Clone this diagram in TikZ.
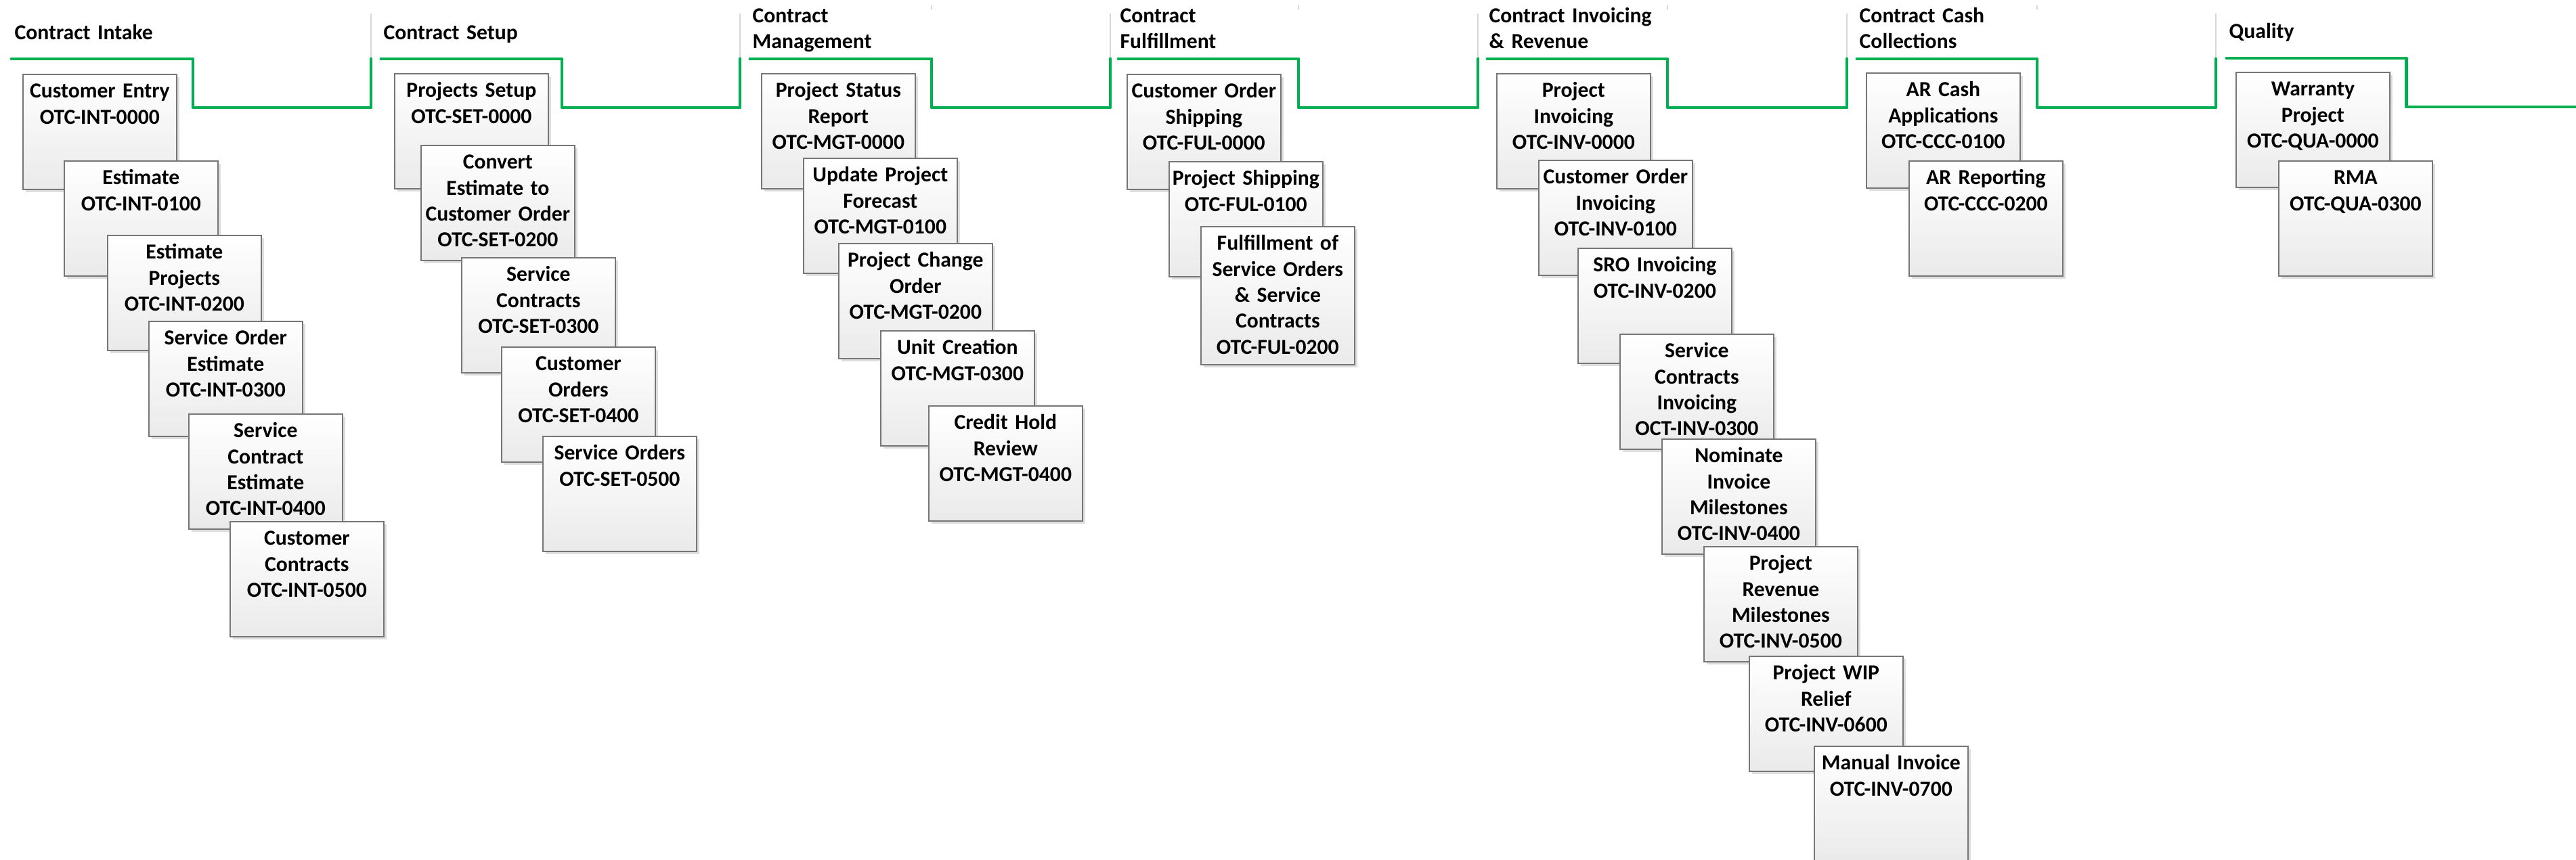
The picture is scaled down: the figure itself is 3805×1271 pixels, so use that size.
\documentclass[tikz,border=0pt]{standalone}
\usepackage{fontspec}
\setmainfont{Carlito}
\usepackage{tikz}
\usetikzlibrary{shadows}
\definecolor{phasegreen}{RGB}{0,176,80}
\definecolor{boxline}{RGB}{118,118,118}
\definecolor{boxfoot}{RGB}{234,234,234}
\definecolor{divline}{RGB}{215,215,215}

\begin{document}
\begin{tikzpicture}[x=0.01cm, y=-0.01cm,
    every node/.style={font=\fontsize{9}{10.9}\selectfont\bfseries, inner sep=0pt},
    task/.style={draw=boxline, line width=0.45pt, top color=white, bottom color=boxfoot,
      anchor=north west, text width=2.27cm, align=center, text height=0.35cm, text depth=1.35cm,
      drop shadow={shadow xshift=0.04cm, shadow yshift=-0.04cm, fill=black!13, opacity=1}},
    phase/.style={anchor=base west, text width=2.6cm, align=left},
    timeline/.style={draw=phasegreen, line width=1.4pt, line cap=round, line join=round},
    divider/.style={draw=divline, line width=0.6pt}]
  \useasboundingbox (0,0) rectangle (3805,1271);

  \draw[divider] (548,20) -- (548,85) (1093,20) -- (1093,85) (1640,20) -- (1640,85)
    (2183,20) -- (2183,85) (2728,20) -- (2728,85) (3273,20) -- (3273,85);
  \draw[divider] (1376,8) -- (1376,14) (1918,8) -- (1918,14) (2463,8) -- (2463,14)
    (3009,8) -- (3009,14);

  \draw[timeline] (17,87) -- (285,87) -- (285,159) -- (548,159) -- (548,87);
  \draw[timeline] (563,87) -- (830,87) -- (830,159) -- (1093,159) -- (1093,87);
  \draw[timeline] (1108,87) -- (1376,87) -- (1376,159) -- (1640,159) -- (1640,87);
  \draw[timeline] (1652,87) -- (1918,87) -- (1918,159) -- (2183,159) -- (2183,87);
  \draw[timeline] (2197,87) -- (2463,87) -- (2463,159) -- (2728,159) -- (2728,87);
  \draw[timeline] (2743,87) -- (3009,87) -- (3009,159) -- (3273,159) -- (3273,87);
  \draw[timeline] (3289,86) -- (3554,86) -- (3554,158) -- (3805,158);

  \node (Intake) at (21,59) [phase] {Contract Intake};
  \node (Setup) at (566,59) [phase] {Contract Setup};
  \node (Mgmt) at (1111,33.5) [phase] {Contract\\Management};
  \node (Fulfil) at (1654,33.5) [phase] {Contract\\Fulfillment};
  \node (Invoicing) at (2199,33.5) [phase] {Contract Invoicing\\\& Revenue};
  \node (Cash) at (2746,33.5) [phase] {Contract Cash\\Collections};
  \node (Quality) at (3292,57) [phase] {Quality};

  \node (INT0) at (33,109) [task] {Customer Entry\\OTC-INT-0000};
  \node (INT1) at (94,237) [task] {Estimate\\OTC-INT-0100};
  \node (INT2) at (158,347) [task] {Estimate\\Projects\\OTC-INT-0200};
  \node (INT3) at (219,474) [task] {Service Order\\Estimate\\OTC-INT-0300};
  \node (INT4) at (278,611) [task] {Service\\Contract\\Estimate\\OTC-INT-0400};
  \node (INT5) at (339,770) [task] {Customer\\Contracts\\OTC-INT-0500};

  \node (SET0) at (582,108) [task] {Projects Setup\\OTC-SET-0000};
  \node (SET2) at (621,214) [task] {Convert\\Estimate to\\Customer Order\\OTC-SET-0200};
  \node (SET3) at (681,380) [task] {Service\\Contracts\\OTC-SET-0300};
  \node (SET4) at (740,512) [task] {Customer\\Orders\\OTC-SET-0400};
  \node (SET5) at (801,644) [task] {Service Orders\\OTC-SET-0500};

  \node (MGT0) at (1124,108) [task] {Project Status\\Report\\OTC-MGT-0000};
  \node (MGT1) at (1186,233) [task] {Update Project\\Forecast\\OTC-MGT-0100};
  \node (MGT2) at (1238,359) [task] {Project Change\\Order\\OTC-MGT-0200};
  \node (MGT3) at (1300,488) [task] {Unit Creation\\OTC-MGT-0300};
  \node (MGT4) at (1371,599) [task] {Credit Hold\\Review\\OTC-MGT-0400};

  \node (FUL0) at (1664,109) [task] {Customer Order\\Shipping\\OTC-FUL-0000};
  \node (FUL1) at (1726,238) [task] {Project Shipping\\OTC-FUL-0100};
  \node (FUL2) at (1773,334) [task, text depth=1.69cm] {Fulfillment of\\Service Orders\\\& Service\\Contracts\\OTC-FUL-0200};

  \node (INV0) at (2210,108) [task] {Project\\Invoicing\\OTC-INV-0000};
  \node (INV1) at (2272,236) [task] {Customer Order\\Invoicing\\OTC-INV-0100};
  \node (INV2) at (2330,366) [task] {SRO Invoicing\\OTC-INV-0200};
  \node (INV3) at (2392,493) [task] {Service\\Contracts\\Invoicing\\OCT-INV-0300};
  \node (INV4) at (2454,648) [task] {Nominate\\Invoice\\Milestones\\OTC-INV-0400};
  \node (INV5) at (2516,807) [task] {Project\\Revenue\\Milestones\\OTC-INV-0500};
  \node (INV6) at (2583,969) [task] {Project WIP\\Relief\\OTC-INV-0600};
  \node (INV7) at (2679,1102) [task] {Manual Invoice\\OTC-INV-0700};

  \node (CCC1) at (2756,107) [task] {AR Cash\\Applications\\OTC-CCC-0100};
  \node (CCC2) at (2819,237) [task] {AR Reporting\\OTC-CCC-0200};

  \node (QUA0) at (3302,106) [task] {Warranty\\Project\\OTC-QUA-0000};
  \node (QUA3) at (3365,237) [task] {RMA\\OTC-QUA-0300};
\end{tikzpicture}
\end{document}
